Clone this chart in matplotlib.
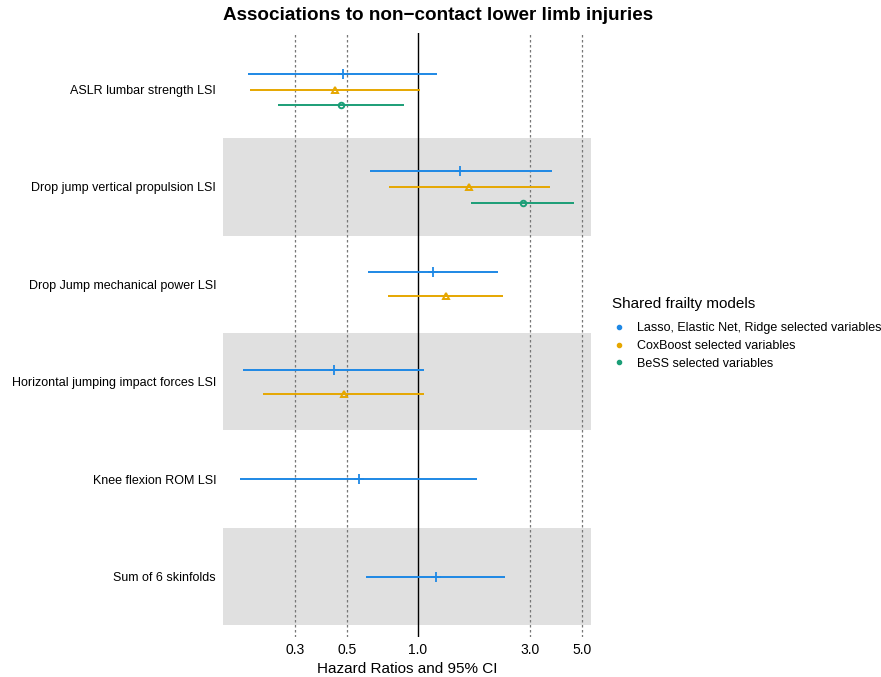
import numpy as np
import matplotlib
matplotlib.use("Agg")
import matplotlib.pyplot as plt
from matplotlib.lines import Line2D

plt.rcParams['font.family'] = ['Liberation Sans', 'DejaVu Sans']

variables = [
    "ASLR lumbar strength LSI",
    "Drop jump vertical propulsion LSI",
    "Drop Jump mechanical power LSI",
    "Horizontal jumping impact forces LSI",
    "Knee flexion ROM LSI",
    "Sum of 6 skinfolds",
]

nan = np.nan
lasso_est = [0.48, 1.51, 1.16, 0.44, 0.56, 1.19]
lasso_lo = [0.19, 0.625, 0.615, 0.18, 0.175, 0.60]
lasso_hi = [1.21, 3.71, 2.20, 1.06, 1.79, 2.35]

cox_est = [0.443, 1.65, 1.31, 0.483, nan, nan]
cox_lo = [0.193, 0.753, 0.743, 0.22, nan, nan]
cox_hi = [1.017, 3.66, 2.29, 1.057, nan, nan]

bess_est = [0.469, 2.79, nan, nan, nan, nan]
bess_lo = [0.253, 1.686, nan, nan, nan, nan]
bess_hi = [0.872, 4.61, nan, nan, nan, nan]

model_names = ["Lasso, Elastic Net, Ridge selected variables",
               "CoxBoost selected variables",
               "BeSS selected variables"]
colors = ["#1E88E5", "#E6A700", "#1B9E77"]
markers = ["+", "^", "o"]

xticks = [0.3, 0.5, 1.0, 3.0, 5.0]
xtick_labels = ["0.3", "0.5", "1.0", "3.0", "5.0"]

series = [
    (lasso_est, lasso_lo, lasso_hi),
    (cox_est, cox_lo, cox_hi),
    (bess_est, bess_lo, bess_hi),
]

fig = plt.figure(figsize=(8.81, 6.77), dpi=100)
ax = fig.add_axes([223 / 881, 1 - 637 / 677, 368 / 881, 604 / 677])
ax.set_xscale("log")
ax.set_xlim(0.148, 5.45)
ax.set_ylim(5.62, -0.58)

# alternating grey bands
for i in range(len(variables)):
    if i % 2 == 1:
        ax.axhspan(i - 0.5, i + 0.5, color="#E0E0E0", lw=0, zorder=0)

for x in xticks:
    if x == 1.0:
        ax.axvline(x, color="black", lw=1.0, zorder=1)
    else:
        ax.axvline(x, color="#777777", lw=0.9, ls=(0, (2, 2)), zorder=1)

dodge = 0.49
for i in range(len(variables)):
    present = [k for k, s in enumerate(series) if not np.isnan(s[0][i])]
    n = len(present)
    for j, k in enumerate(present):
        est, lo, hi = series[k]
        y = i + (j - (n - 1) / 2) * dodge / n
        ax.plot([lo[i], hi[i]], [y, y], color=colors[k], lw=1.4, zorder=3,
                solid_capstyle="butt")
        if markers[k] == "+":
            ax.plot(est[i], y, marker="+", color=colors[k], ms=7, mew=1.3, zorder=4)
        elif markers[k] == "^":
            ax.plot(est[i], y, marker="^", color=colors[k], ms=5,
                    mfc="none", mew=1.4, zorder=4)
        else:
            ax.plot(est[i], y, marker="o", color=colors[k], ms=4,
                    mfc="none", mew=1.4, zorder=4)

ax.set_yticks(range(len(variables)))
ax.set_yticklabels(variables, fontsize=9)
ax.set_xticks(xticks)
ax.set_xticklabels(xtick_labels, fontsize=10)
ax.xaxis.set_minor_locator(matplotlib.ticker.NullLocator())
ax.tick_params(length=0, pad=5)
ax.tick_params(axis="x", pad=4)
for s in ax.spines.values():
    s.set_visible(False)

ax.set_xlabel("Hazard Ratios and 95% CI", fontsize=11, labelpad=4)
fig.text(223 / 881, 1 - 15 / 677, "Associations to non\u2212contact lower limb injuries",
         fontsize=13.6, fontweight="bold", ha="left", va="center")

handles = [Line2D([], [], ls="none", marker="o", color=c, ms=3) for c in colors]
leg = fig.legend(handles, model_names, title="Shared frailty models",
                 loc="upper left", bbox_to_anchor=(601 / 881, 1 - 286 / 677),
                 frameon=False, fontsize=9, title_fontsize=11,
                 handlelength=1.0, handletextpad=1.0, labelspacing=0.45)
leg._legend_box.align = "left"
leg._legend_box.sep = 8

fig.savefig("out.png", dpi=100)
